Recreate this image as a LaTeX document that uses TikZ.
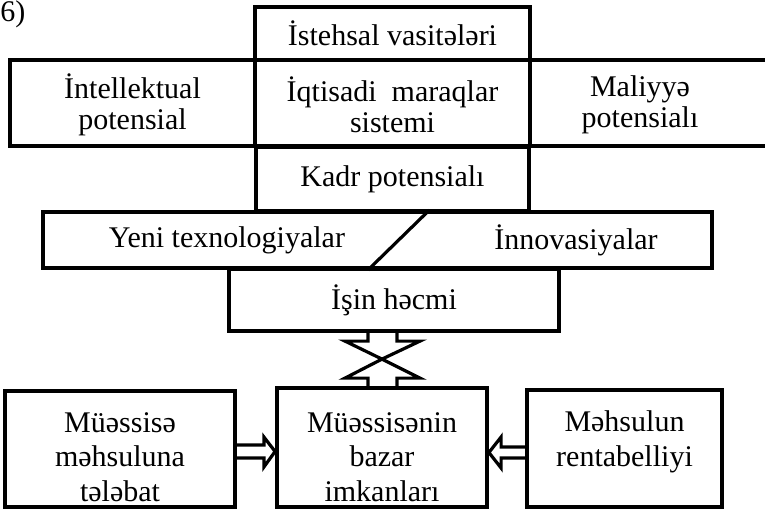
\documentclass[tikz,border=0pt]{standalone}
\usepackage{fontspec}
\setmainfont{Liberation Serif}
\usetikzlibrary{calc}
\begin{document}
\begin{tikzpicture}[x=0.5pt,y=-0.5pt,
  box/.style={draw, line width=1.9pt, inner sep=0pt, align=center,
    font=\fontsize{15}{15.5}\selectfont},
  lbl/.style={inner sep=0pt, align=center, font=\fontsize{15}{15.5}\selectfont},
  tlbl/.style={lbl, font=\fontsize{15}{17.25}\selectfont},
  blk/.style={draw, line width=1.6pt, line join=miter}]
\useasboundingbox (0,0) rectangle (765,509);
\node[lbl, anchor=north west] (six) at (0,0) {6)};
\node[box, minimum width=137.5pt, minimum height=26.5pt] (ist) at (392.5,33.5) {İstehsal vasitələri};
\node[box, minimum width=122.5pt, minimum height=43pt] (int) at (132.5,103) {};
\node[lbl] (intt) at (132.5,105) {İntellektual\\potensial};
\node[box, minimum width=137.5pt, minimum height=43pt] (iqt) at (392.5,103) {};
\node[lbl] (iqtt) at (392.5,105) {İqtisadi\ \ maraqlar\\sistemi};
\node[box, minimum width=118.5pt, minimum height=43pt] (mal) at (648.5,103) {};
\node[lbl] (malt) at (640,105) {Maliyyə\\potensialı};
\node[box, minimum width=136.5pt, minimum height=32pt] (kad) at (392.5,179) {Kadr potensialı};
\node[box, minimum width=334.5pt, minimum height=28pt] (yen) at (377.5,240) {};
\node[lbl] (ytx) at (227,240) {Yeni texnologiyalar};
\node[lbl] (inn) at (576,240) {İnnovasiyalar};
\draw[line width=1.6pt] ($(yen.north west)!0.577!(yen.north east)$) -- ($(yen.south west)!0.486!(yen.south east)$);
\node[box, minimum width=165pt, minimum height=31pt] (isn) at (394,300) {İşin həcmi};
\node[box, minimum width=115pt, minimum height=58pt] (lb) at (120,449) {};
\node[tlbl] (lbt) at (120,457) {Müəssisə\\məhsuluna\\tələbat};
\node[box, minimum width=105pt, minimum height=59.5pt] (mc) at (382,447.5) {};
\node[tlbl] (mct) at (382,457) {Müəssisənin\\bazar\\imkanları};
\node[box, minimum width=97.5pt, minimum height=58.5pt] (rb) at (624.5,448.5) {};
\node[tlbl] (rbt) at (624.5,442) {Məhsulun\\rentabelliyi};
% double arrow between isn and mc
\draw[blk] ($(mc.north)+(-14,-57)$) -- ($(mc.north)+(-14,-45)$) -- ($(mc.north)+(-37,-45)$) -- ($(mc.north)+(0,-27)$) -- ($(mc.north)+(38,-45)$) -- ($(mc.north)+(15,-45)$) -- ($(mc.north)+(15,-57)$);
\draw[blk] ($(mc.north)+(-14,0)$) -- ($(mc.north)+(-14,-8)$) -- ($(mc.north)+(-37,-8)$) -- ($(mc.north)+(0,-27)$) -- ($(mc.north)+(38,-8)$) -- ($(mc.north)+(15,-8)$) -- ($(mc.north)+(15,0)$);
% left arrow
\draw[blk] ($(lb.east)+(0,-4)$) -- ($(lb.east)+(27,-4)$) -- ($(lb.east)+(27,-12)$) -- ($(mc.west)+(0,4)$) -- ($(lb.east)+(27,18)$) -- ($(lb.east)+(27,9)$) -- ($(lb.east)+(0,9)$);
% right arrow
\draw[blk] ($(rb.west)+(0,-1.5)$) -- ($(rb.west)+(-24,-1.5)$) -- ($(rb.west)+(-24,-11.5)$) -- ($(mc.east)+(0,5)$) -- ($(rb.west)+(-24,19.5)$) -- ($(rb.west)+(-24,9.5)$) -- ($(rb.west)+(0,9.5)$);
\end{tikzpicture}
\end{document}
